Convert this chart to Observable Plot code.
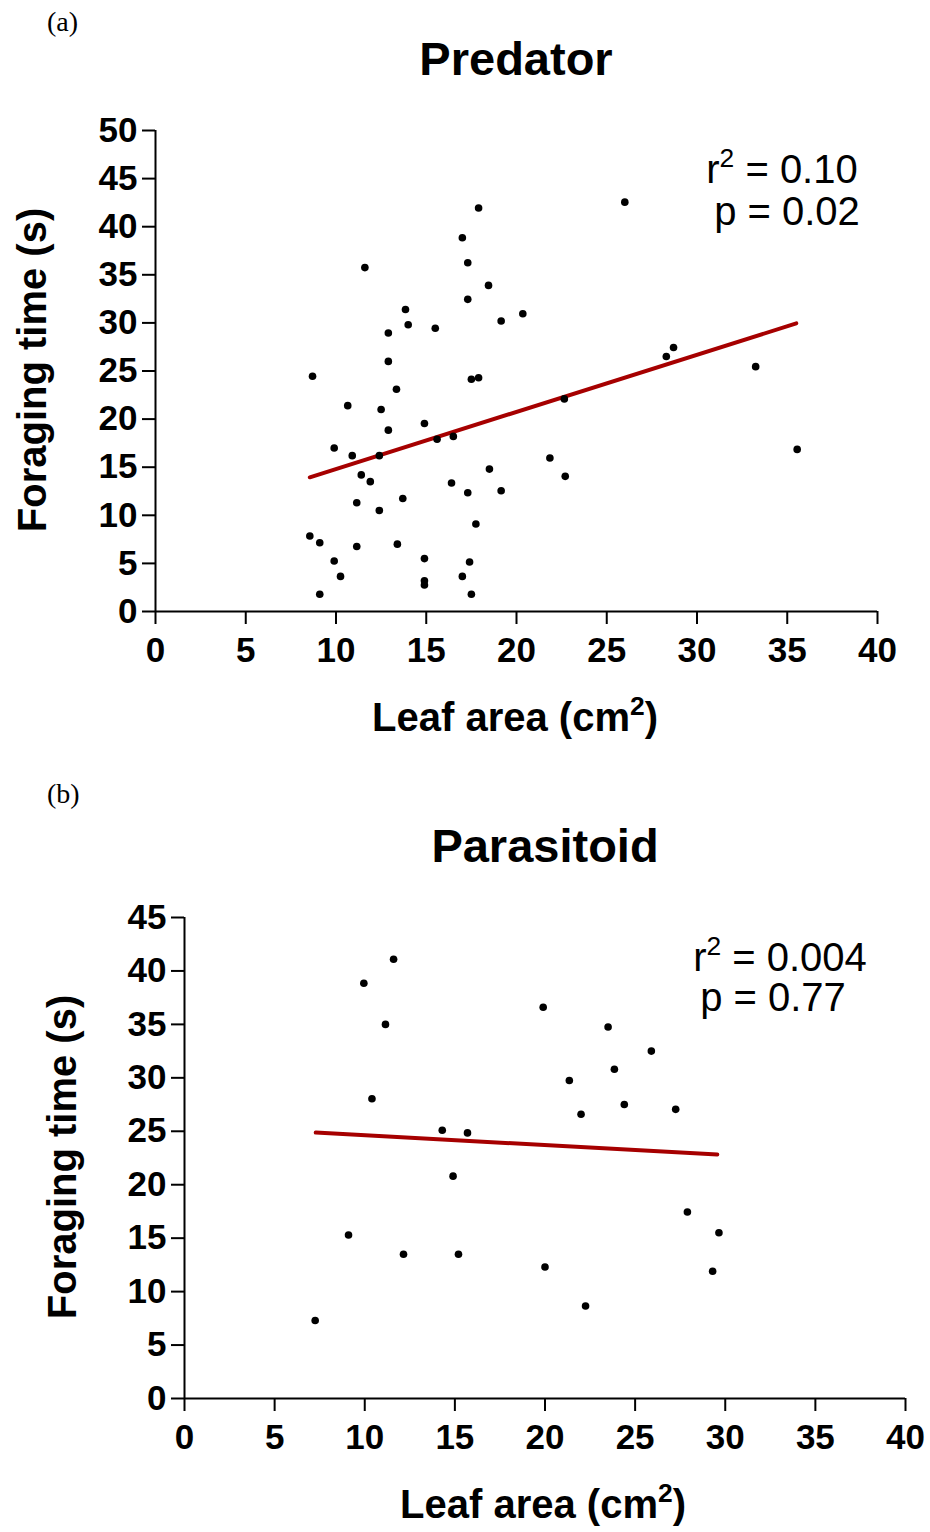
<!DOCTYPE html>
<html>
<head>
<meta charset="utf-8">
<script src="https://cdn.jsdelivr.net/npm/d3@7"></script>
<script src="https://cdn.jsdelivr.net/npm/@observablehq/plot@0.6"></script>
<style>
  html, body { margin: 0; padding: 0; background: white; }
  #root { position: relative; width: 930px; height: 1532px; overflow: hidden; font-family: "Liberation Sans", Arial, Helvetica, sans-serif; color: black; }
  .abs { position: absolute; line-height: 1; white-space: nowrap; }
  .plotbox { position: absolute; left: 0; }
  .panel { font-family: "Liberation Serif", "DejaVu Serif", serif; font-size: 28px; }
  .title { font-weight: bold; font-size: 47px; transform: translateX(-50%); }
  .stat { font-size: 40px; transform: translateX(-50%); }
  .stat sup { font-size: 0.66em; vertical-align: 0.62em; line-height: 0; }
  .xlab { font-weight: bold; font-size: 40px; transform: translateX(-50%); }
  .xlab sup { font-size: 0.66em; vertical-align: 0.62em; line-height: 0; }
  .ylab { font-weight: bold; font-size: 40px; transform: translate(-50%, -50%) rotate(-90deg); }
</style>
</head>
<body>
<div id="root"></div>
<script>
// ---------- Data ----------
const xTicks = [0, 5, 10, 15, 20, 25, 30, 35, 40];
const predatorYTicks = [0, 5, 10, 15, 20, 25, 30, 35, 40, 45, 50];
const parasitoidYTicks = [0, 5, 10, 15, 20, 25, 30, 35, 40, 45];

// Panel (a) Predator: leaf area (cm2) and foraging time (s)
const predatorLeafArea = [17.9, 17.0, 11.6, 17.3, 18.45, 17.3, 13.85, 14.0, 15.5, 19.15, 20.35, 12.9, 12.9, 8.7, 17.5, 17.9, 13.35, 10.65, 12.5, 12.9, 14.9, 9.9, 10.9, 12.4, 15.6, 16.5, 11.4, 11.9, 18.5, 16.4, 17.3, 19.15, 21.85, 11.15, 12.4, 13.7, 17.75, 8.55, 9.1, 11.15, 13.4, 9.9, 14.9, 17.4, 10.25, 17.0, 14.9, 14.9, 9.1, 17.5, 26.0, 28.3, 28.7, 33.25, 22.65, 22.7, 35.55];
const predatorForaging = [41.95, 38.85, 35.75, 36.25, 33.9, 32.45, 31.4, 29.8, 29.45, 30.2, 30.95, 28.95, 26.0, 24.45, 24.15, 24.3, 23.1, 21.4, 21.0, 18.85, 19.55, 17.0, 16.2, 16.2, 17.9, 18.2, 14.2, 13.5, 14.8, 13.35, 12.35, 12.55, 15.95, 11.3, 10.5, 11.75, 9.1, 7.85, 7.15, 6.75, 7.0, 5.25, 5.5, 5.15, 3.65, 3.65, 3.2, 2.75, 1.8, 1.8, 42.55, 26.5, 27.45, 25.45, 22.1, 14.05, 16.85];
const predatorFitX = [8.55, 35.5];
const predatorFitY = [13.95, 29.95];
const predatorStats = ["0.10", "0.02"];

// Panel (b) Parasitoid
const parasitoidLeafArea = [11.6, 9.95, 11.15, 10.4, 14.3, 15.7, 14.9, 9.1, 12.15, 15.2, 7.25, 19.9, 23.5, 25.9, 23.85, 21.35, 24.4, 22.0, 27.25, 27.9, 29.65, 20.0, 29.3, 22.25];
const parasitoidForaging = [41.1, 38.85, 35.0, 28.05, 25.1, 24.85, 20.8, 15.3, 13.5, 13.5, 7.3, 36.6, 34.75, 32.5, 30.8, 29.75, 27.5, 26.6, 27.05, 17.45, 15.5, 12.3, 11.9, 8.65];
const parasitoidFitX = [7.28, 29.56];
const parasitoidFitY = [24.88, 22.83];
const parasitoidStats = ["0.004", "0.77"];

// ---------- Build ----------
const root = document.getElementById("root");
const FONT = '"Liberation Sans", Arial, Helvetica, sans-serif';
const FIT_COLOR = "#a60000";

function panel({top, height, marginLeft, marginRight, marginTop, marginBottom, yMax, yTicks, xs, ys, fitX, fitY}) {
  const pts = xs.map((x, i) => ({x, y: ys[i]}));
  const fit = fitX.map((x, i) => ({x, y: fitY[i]}));
  const chart = Plot.plot({
    width: 930,
    height,
    marginLeft, marginRight, marginTop, marginBottom,
    x: {domain: [0, 40]},
    y: {domain: [0, yMax]},
    style: {fontFamily: FONT, background: "transparent", color: "black", overflow: "visible"},
    marks: [
      Plot.axisX({ticks: xTicks, tickSize: 13, tickPadding: 13, fontSize: 35, fontWeight: "bold", strokeWidth: 2, stroke: "black", fill: "black", label: null, tickFormat: d => String(d)}),
      Plot.axisY({ticks: yTicks, tickSize: 13, tickPadding: 5, fontSize: 35, fontWeight: "bold", strokeWidth: 2, stroke: "black", fill: "black", label: null, tickFormat: d => String(d)}),
      Plot.ruleX([0], {stroke: "black", strokeWidth: 2}),
      Plot.ruleY([0], {stroke: "black", strokeWidth: 2}),
      Plot.line(fit, {x: "x", y: "y", stroke: FIT_COLOR, strokeWidth: 4, strokeLinecap: "round"}),
      Plot.dot(pts, {x: "x", y: "y", r: 3.8, fill: "black", stroke: "none"})
    ]
  });
  const box = document.createElement("div");
  box.className = "plotbox";
  box.style.top = top + "px";
  box.appendChild(chart);
  root.appendChild(box);
}

function text(cls, html, left, top) {
  const d = document.createElement("div");
  d.className = "abs " + cls;
  d.innerHTML = html;
  d.style.left = left + "px";
  d.style.top = top + "px";
  root.appendChild(d);
}

// Panel (a)
panel({top: 0, height: 760, marginLeft: 155, marginRight: 53, marginTop: 130, marginBottom: 149,
  yMax: 50, yTicks: predatorYTicks, xs: predatorLeafArea, ys: predatorForaging, fitX: predatorFitX, fitY: predatorFitY});
// Panel (b)
panel({top: 800, height: 732, marginLeft: 184, marginRight: 25, marginTop: 117, marginBottom: 134,
  yMax: 45, yTicks: parasitoidYTicks, xs: parasitoidLeafArea, ys: parasitoidForaging, fitX: parasitoidFitX, fitY: parasitoidFitY});

// Text for panel (a)
text("panel", "(a)", 47, 8);
text("title", "Predator", 516, 35);
text("stat", "r<sup>2</sup> = " + predatorStats[0], 782, 149);
text("stat", "p = " + predatorStats[1], 787, 191);
text("xlab", "Leaf area (cm<sup>2</sup>)", 515, 697);
text("ylab", "Foraging time (s)", 32, 370);

// Text for panel (b)
text("panel", "(b)", 47, 780);
text("title", "Parasitoid", 545, 822);
text("stat", "r<sup>2</sup> = " + parasitoidStats[0], 780, 937);
text("stat", "p = " + parasitoidStats[1], 773, 977);
text("xlab", "Leaf area (cm<sup>2</sup>)", 543, 1484);
text("ylab", "Foraging time (s)", 62, 1157);
</script>
</body>
</html>
